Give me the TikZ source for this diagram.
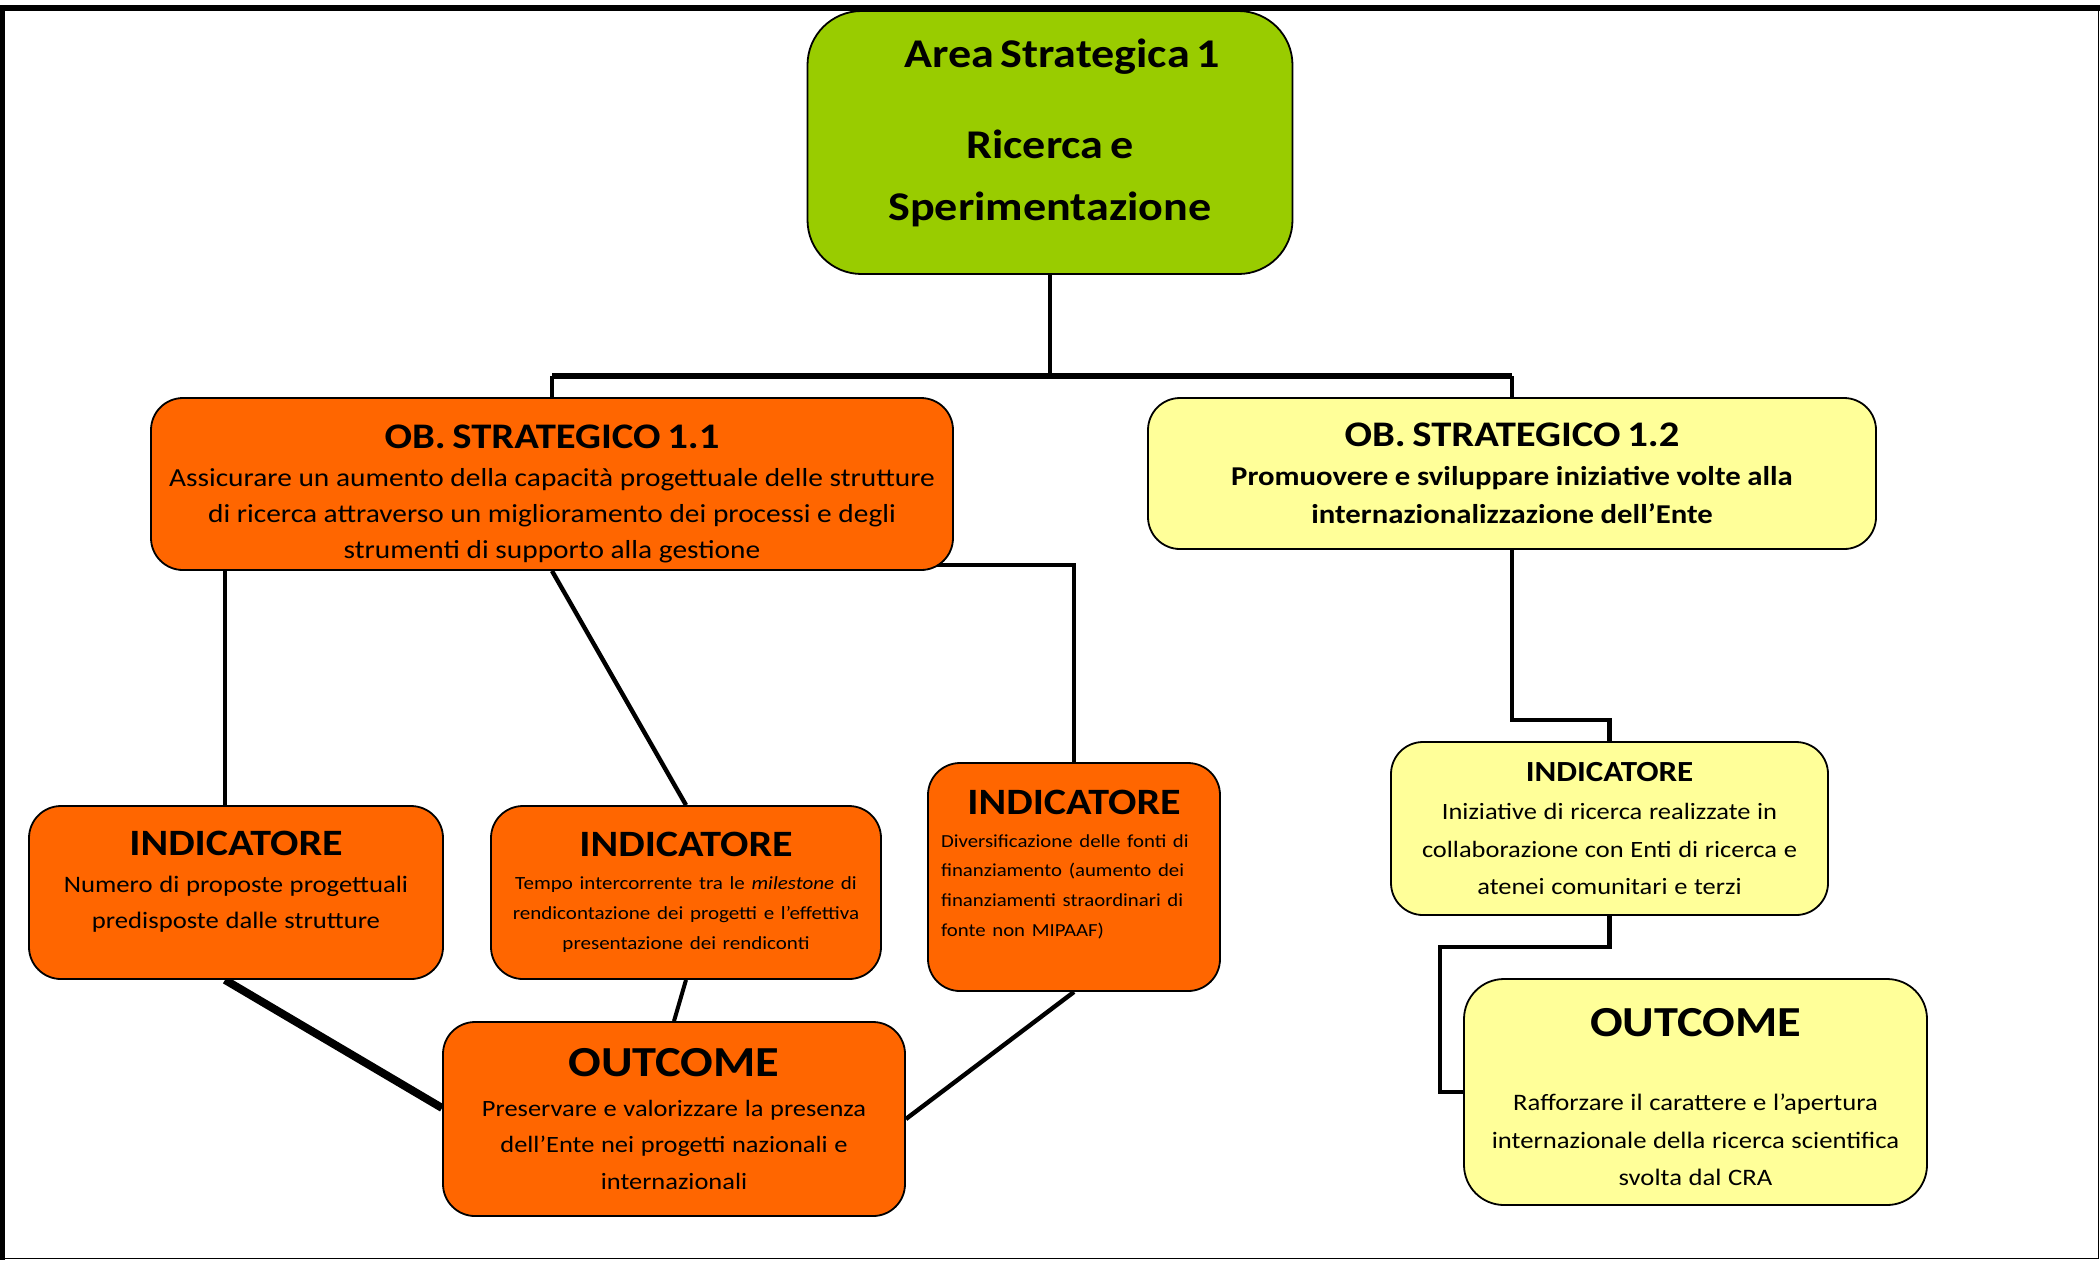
\documentclass[tikz,border=0pt]{standalone}
\usepackage{fontspec}
\setmainfont{Carlito}[FakeStretch=1.13]
\usetikzlibrary{backgrounds}

\definecolor{areagreen}{HTML}{99CC00}
\definecolor{oborange}{HTML}{FF6600}
\definecolor{obyellow}{HTML}{FFFF99}
\newcommand{\setfs}[2]{\fontsize{#1}{#2}\selectfont}

\tikzset{
  box/.style={draw, line width=0.9pt, rounded corners=16pt, inner sep=0pt, align=center},
  link/.style={line width=2.2pt},
}

\begin{document}
\begin{tikzpicture}[x=0.5pt,y=-0.5pt]
\useasboundingbox (0,0) rectangle (2100,1260);
% cornice
\draw[line width=3pt] (0,7.5) -- (2100,7.5);
\draw[line width=3pt] (1.5,6) -- (1.5,1260);
\draw[line width=0.7pt] (2098.5,7) -- (2098.5,1258.5) -- (0,1258.5);

% area strategica
\node[box, fill=areagreen, rounded corners=27pt, minimum width=242.5pt, minimum height=131.5pt,
  text width=230pt] (area) at (1050,142.5)
  {\setfs{20.4}{31}\bfseries \hspace*{12pt}Area Strategica 1\\[14.5pt] Ricerca e\\ Sperimentazione\par\kern10pt};

% obiettivi strategici
\node[box, fill=oborange, minimum width=401pt, minimum height=86pt, text width=395pt] (ob11) at (552,484)
  {\par\kern3.7pt{\setfs{18}{18}\bfseries OB. STRATEGICO 1.1\par}\vspace{1.1pt}
   \setfs{13}{18}Assicurare un aumento della capacità progettuale delle strutture\\
   di ricerca attraverso un miglioramento dei processi e degli\\
   strumenti di supporto alla gestione\par};
\node[box, fill=obyellow, minimum width=364pt, minimum height=75.5pt, text width=355pt] (ob12) at (1512,473.5)
  {{\setfs{18}{18}\bfseries OB. STRATEGICO 1.2\par}\vspace{0.6pt}
   \setfs{13.6}{19}\bfseries Promuovere e sviluppare iniziative volte alla\\
   internazionalizzazione dell’Ente\par};

% indicatori
\node[box, fill=oborange, minimum width=207pt, minimum height=86.5pt, text width=200pt] (ind1) at (236,892.5)
  {{\setfs{18.6}{18.6}\bfseries INDICATORE\par}\vspace{0.5pt}
   \setfs{11.8}{18}Numero di proposte progettuali\\ predisposte dalle strutture\par\kern10.7pt};
\node[box, fill=oborange, minimum width=195pt, minimum height=86.5pt, text width=190pt] (ind2) at (686,892.5)
  {{\setfs{18.6}{18.6}\bfseries INDICATORE\par}\vspace{1.6pt}
   \setfs{9.3}{15}Tempo intercorrente tra le \textit{milestone} di\\
   rendicontazione dei progetti e l’effettiva\\
   presentazione dei rendiconti\par};
\node[box, fill=oborange, minimum width=146pt, minimum height=114pt, text width=133pt, align=left] (ind3) at (1074,877)
  {{\centering\setfs{18.6}{18.6}\bfseries INDICATORE\par}\vspace{1.6pt}
   \setfs{9.2}{14.8}Diversificazione delle fonti di\\
   finanziamento (aumento dei\\
   finanziamenti straordinari di\\
   fonte non MIPAAF)\par\kern12.7pt};
\node[box, fill=obyellow, minimum width=218.5pt, minimum height=86.5pt, text width=212pt] (ind4) at (1609.5,828.5)
  {{\setfs{14.6}{14.6}\bfseries INDICATORE\par}\vspace{0.3pt}
   \setfs{11.7}{18.75}Iniziative di ricerca realizzate in\\
   collaborazione con Enti di ricerca e\\
   atenei comunitari e terzi\par};

% outcome
\node[box, fill=oborange, minimum width=231pt, minimum height=97pt, text width=225pt] (out1) at (674,1119)
  {{\setfs{21.4}{21.4}\bfseries OUTCOME\par}\vspace{1.6pt}
   \setfs{11.7}{18.25}Preservare e valorizzare la presenza\\
   dell’Ente nei progetti nazionali e\\
   internazionali\par};
\node[box, fill=obyellow, rounded corners=20pt, minimum width=231.5pt, minimum height=113pt, text width=225pt] (out2) at (1695.5,1092)
  {\par\kern-2pt{\setfs{21.4}{21.4}\bfseries OUTCOME\par}\vspace{18.3pt}
   \setfs{11.8}{18.75}Rafforzare il carattere e l’apertura\\
   internazionale della ricerca scientifica\\
   svolta dal CRA\par};

\coordinate (bus) at (1050,376);
\coordinate (jog1) at (1560,720);
\coordinate (jog2) at (1440,947);

\begin{pgfonlayer}{background}
\draw[line width=2pt] (area.south) -- (bus);
\draw[line width=2.7pt] (ob11.north |- bus) -- (ob12.north |- bus);
\draw[line width=2pt] (ob11.north |- bus) -- (ob11.north);
\draw[line width=2pt] (ob12.north |- bus) -- (ob12.north);
\draw[link] ([xshift=-5.5pt]ind1.north) -- ([xshift=-5.5pt]ind1.north |- ob11.south);
\draw[link] (ob11.south) -- (ind2.north);
\draw[link] (ind3.north) |- ([xshift=-10pt,yshift=3pt]ob11.south east);
\draw[line width=4pt] ([xshift=-5.5pt]ind1.south) -- ([yshift=5.5pt]out1.west);
\draw[line width=2pt] (ind2.south) -- (out1.north);
\draw[link] (ind3.south) -- (out1.east);
\draw[link] (ob12.south) |- (jog1) -| (ind4.north);
\draw[link] (ind4.south) |- (jog2) |- (out2.west);
\end{pgfonlayer}
\end{tikzpicture}
\end{document}
